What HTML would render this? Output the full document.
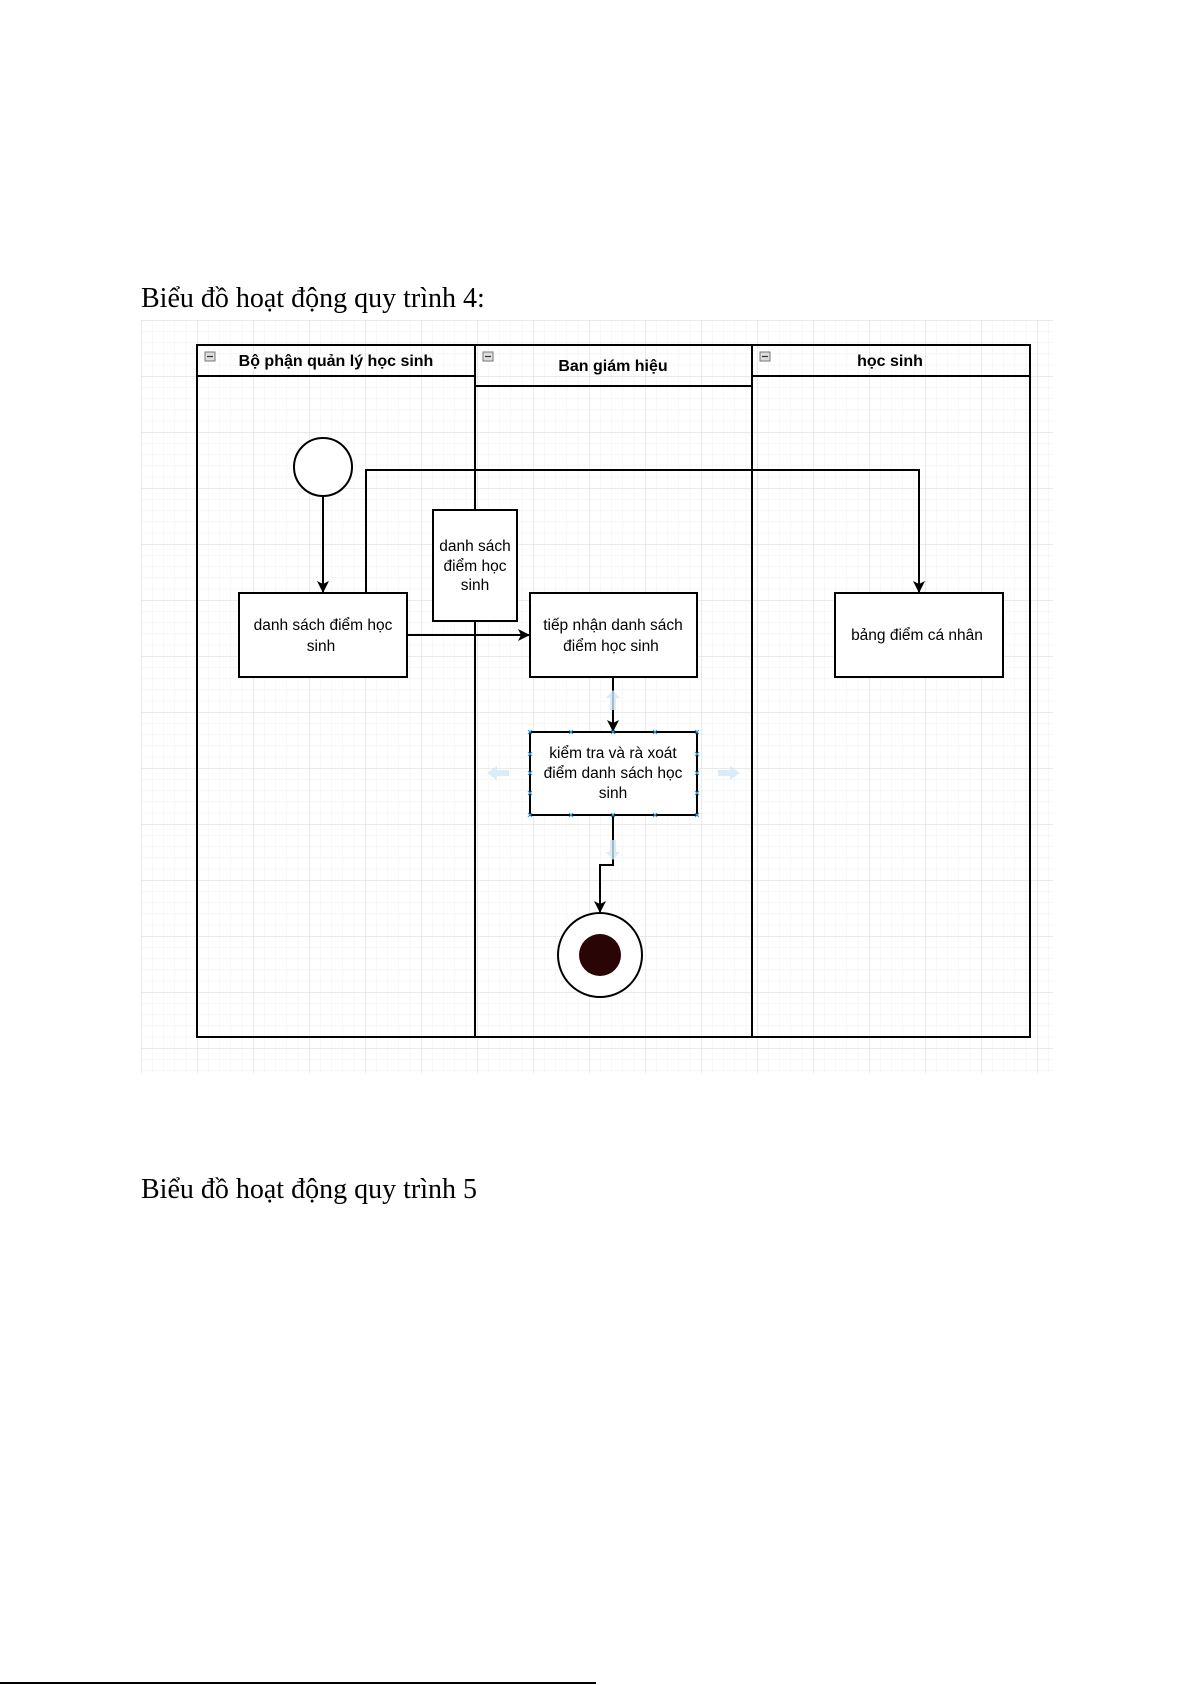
<!DOCTYPE html>
<html><head><meta charset="utf-8"><style>
html,body{margin:0;padding:0;background:#fff;}
body{width:1191px;height:1685px;position:relative;overflow:hidden;}
.t{position:absolute;left:141px;font-family:"Liberation Serif",serif;font-size:28px;color:#000;white-space:nowrap;}
svg{position:absolute;left:0;top:0;}
</style></head><body>
<div class="t" style="top:283px;">Biểu đồ hoạt động quy trình 4:</div>
<div class="t" style="top:1174px;">Biểu đồ hoạt động quy trình 5</div>
<svg width="1191" height="1685" viewBox="0 0 1191 1685" xmlns="http://www.w3.org/2000/svg">
<defs>
<pattern id="g" x="141" y="320" width="11.2" height="11.2" patternUnits="userSpaceOnUse"><path d="M0 0H11.2M0 0V11.2" stroke="#efefef" stroke-width="1" fill="none"/></pattern>
<pattern id="G" x="141" y="320" width="56" height="56" patternUnits="userSpaceOnUse"><path d="M0 0H56M0 0V56" stroke="#d6d6d6" stroke-width="1" fill="none"/></pattern>
<marker id="a" markerWidth="12" markerHeight="12" refX="11" refY="6" orient="auto" markerUnits="userSpaceOnUse"><path d="M0 0L12 6L0 12L3 6Z" fill="#000"/></marker>
</defs>
<rect x="141" y="320" width="912" height="753" fill="url(#g)"/>
<rect x="141" y="320" width="912" height="753" fill="url(#G)"/>
<g stroke="#000" stroke-width="2" fill="none">
<rect x="197" y="345" width="833" height="692"/>
<line x1="475" y1="345" x2="475" y2="1037"/>
<line x1="752" y1="345" x2="752" y2="1037"/>
<line x1="197" y1="376" x2="475" y2="376"/>
<line x1="475" y1="386" x2="752" y2="386"/>
<line x1="752" y1="376" x2="1030" y2="376"/>
</g>
<g fill="#ddd" stroke="#777" stroke-width="1">
<rect x="205" y="352" width="10" height="9"/><rect x="483" y="352" width="10" height="9"/><rect x="760" y="352" width="10" height="9"/>
</g>
<g stroke="#333" stroke-width="1.2"><line x1="207" y1="356.5" x2="213" y2="356.5"/><line x1="485" y1="356.5" x2="491" y2="356.5"/><line x1="762" y1="356.5" x2="768" y2="356.5"/></g>
<g font-family="Liberation Sans,sans-serif" font-size="16" font-weight="bold" fill="#000" text-anchor="middle">
<text x="336" y="366">Bộ phận quản lý học sinh</text>
<text x="613" y="371">Ban giám hiệu</text>
<text x="890" y="366">học sinh</text>
</g>
<g stroke="#000" stroke-width="2" fill="#fff">
<circle cx="323" cy="467" r="29"/>
<rect x="239" y="593" width="168" height="84"/>
<rect x="433" y="510" width="84" height="111"/>
<rect x="530" y="593" width="167" height="84"/>
<rect x="835" y="593" width="168" height="84"/>
<rect x="530" y="732" width="167" height="83"/>
<circle cx="600" cy="955" r="42"/>
</g>
<circle cx="600" cy="955" r="21" fill="#2a0505"/>
<g stroke="#000" stroke-width="2" fill="none">
<line x1="323" y1="496" x2="323" y2="592" marker-end="url(#a)"/>
<polyline points="366,593 366,470 919,470 919,592" marker-end="url(#a)"/>
<line x1="407" y1="635" x2="529" y2="635" marker-end="url(#a)"/>
<line x1="613" y1="677" x2="613" y2="731" marker-end="url(#a)"/>
<polyline points="613,815 613,865 600,865 600,912" marker-end="url(#a)"/>
</g>
<g fill="#cfe8f7" opacity="0.8">
<path d="M613 690l-7 8h4v12h6v-12h4z"/><path d="M613 860l-7-8h4v-12h6v12h4z"/>
<path d="M487 773l10-7v4h12v6h-12v4z"/><path d="M740 773l-10-7v4h-12v6h12v4z"/>
</g>
<g stroke="#3aa0d8" stroke-width="1.2">
<path d="M528 730l4 4M532 730l-4 4M569 730l4 4M573 730l-4 4M611 730l4 4M615 730l-4 4M653 730l4 4M657 730l-4 4M695 730l4 4M699 730l-4 4"/>
<path d="M528 813l4 4M532 813l-4 4M569 813l4 4M573 813l-4 4M611 813l4 4M615 813l-4 4M653 813l4 4M657 813l-4 4M695 813l4 4M699 813l-4 4"/>
<path d="M528 752l4 4M532 752l-4 4M528 771l4 4M532 771l-4 4M528 791l4 4M532 791l-4 4"/>
<path d="M695 752l4 4M699 752l-4 4M695 771l4 4M699 771l-4 4M695 791l4 4M699 791l-4 4"/>
</g>
<g font-family="Liberation Sans,sans-serif" font-size="15.5" fill="#000" text-anchor="middle">
<text x="323" y="630">danh sách điểm học</text><text x="321" y="651">sinh</text>
<text x="475" y="551">danh sách</text><text x="475" y="571">điểm học</text><text x="475" y="590">sinh</text>
<text x="613" y="630">tiếp nhận danh sách</text><text x="611" y="651">điểm học sinh</text>
<text x="917" y="640">bảng điểm cá nhân</text>
<text x="613" y="758">kiểm tra và rà xoát</text><text x="613" y="778">điểm danh sách học</text><text x="613" y="798">sinh</text>
</g>
<line x1="0" y1="1683" x2="596" y2="1683" stroke="#000" stroke-width="2"/>
</svg>
</body></html>
